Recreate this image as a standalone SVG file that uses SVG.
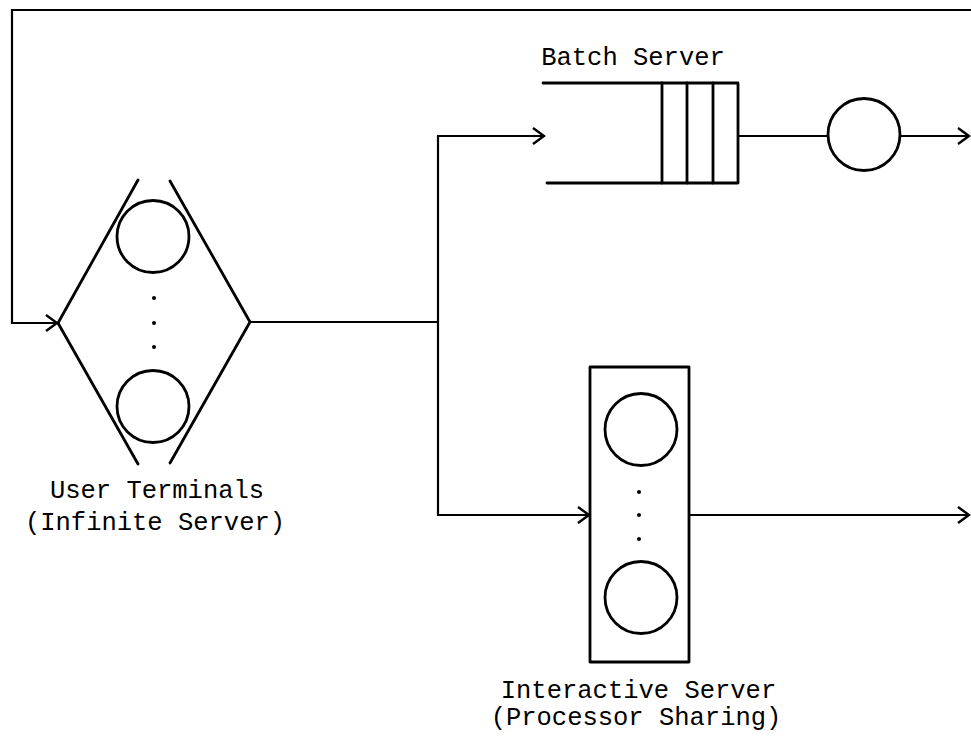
<svg xmlns="http://www.w3.org/2000/svg" width="971" height="736" viewBox="0 0 971 736">
<defs>
<style>
.s{fill:none;stroke:#000;stroke-width:2.8;stroke-linecap:round;stroke-linejoin:round}
.c{fill:none;stroke:#000;stroke-width:2.2;stroke-linejoin:miter}
.d{fill:#000}
.t{font-family:"Liberation Mono","DejaVu Sans Mono",monospace;font-size:25.5px;fill:#000;text-anchor:middle}
</style>
<marker id="arr" viewBox="-12 -10 14 20" refX="0" refY="0" markerWidth="14" markerHeight="20" markerUnits="userSpaceOnUse" orient="auto">
<path d="M-11,-8 L0,0 L-11,8" fill="none" stroke="#000" stroke-width="2.4" stroke-linejoin="miter"/>
</marker>
</defs>
<rect width="971" height="736" fill="#fff"/>
<g id="connectors">
<path class="c" d="M971,10 L12,10 L12,323 L57,323" marker-end="url(#arr)"/>
<path class="c" d="M250,322 L438,322"/>
<path class="c" d="M438,322 L438,136 L544,136" marker-end="url(#arr)"/>
<path class="c" d="M438,322 L438,515 L589,515" marker-end="url(#arr)"/>
<path class="c" d="M738,136 L828,136"/>
<path class="c" d="M900,136 L969,136" marker-end="url(#arr)"/>
<path class="c" d="M689,515 L969,515" marker-end="url(#arr)"/>
</g>
<g id="user-terminals">
<polyline class="s" points="138,180 58,323 138,464"/>
<polyline class="s" points="170,181 250,322 170,463"/>
<circle class="s" cx="153" cy="236.5" r="36"/>
<circle class="s" cx="153" cy="406.5" r="36"/>
<circle class="d" cx="154" cy="298" r="2"/>
<circle class="d" cx="154" cy="323" r="2"/>
<circle class="d" cx="154" cy="347" r="2"/>
<text class="t" x="157" y="498">User Terminals</text>
<text class="t" x="155" y="530">(Infinite Server)</text>
</g>
<g id="batch-server">
<polyline class="s" points="543,83 738,83 738,183 547,183"/>
<line class="s" x1="662" y1="83" x2="662" y2="183"/>
<line class="s" x1="687" y1="83" x2="687" y2="183"/>
<line class="s" x1="713" y1="83" x2="713" y2="183"/>
<circle class="s" cx="864" cy="134.5" r="36"/>
<text class="t" x="633" y="65">Batch Server</text>
</g>
<g id="interactive-server">
<rect class="s" x="590" y="367" width="99" height="295"/>
<circle class="s" cx="641" cy="429.5" r="36"/>
<circle class="s" cx="641" cy="597.5" r="36"/>
<circle class="d" cx="639" cy="492" r="2"/>
<circle class="d" cx="639" cy="515" r="2"/>
<circle class="d" cx="639" cy="539" r="2"/>
<text class="t" x="638.5" y="698">Interactive Server</text>
<text class="t" x="636" y="725">(Processor Sharing)</text>
</g>
</svg>
